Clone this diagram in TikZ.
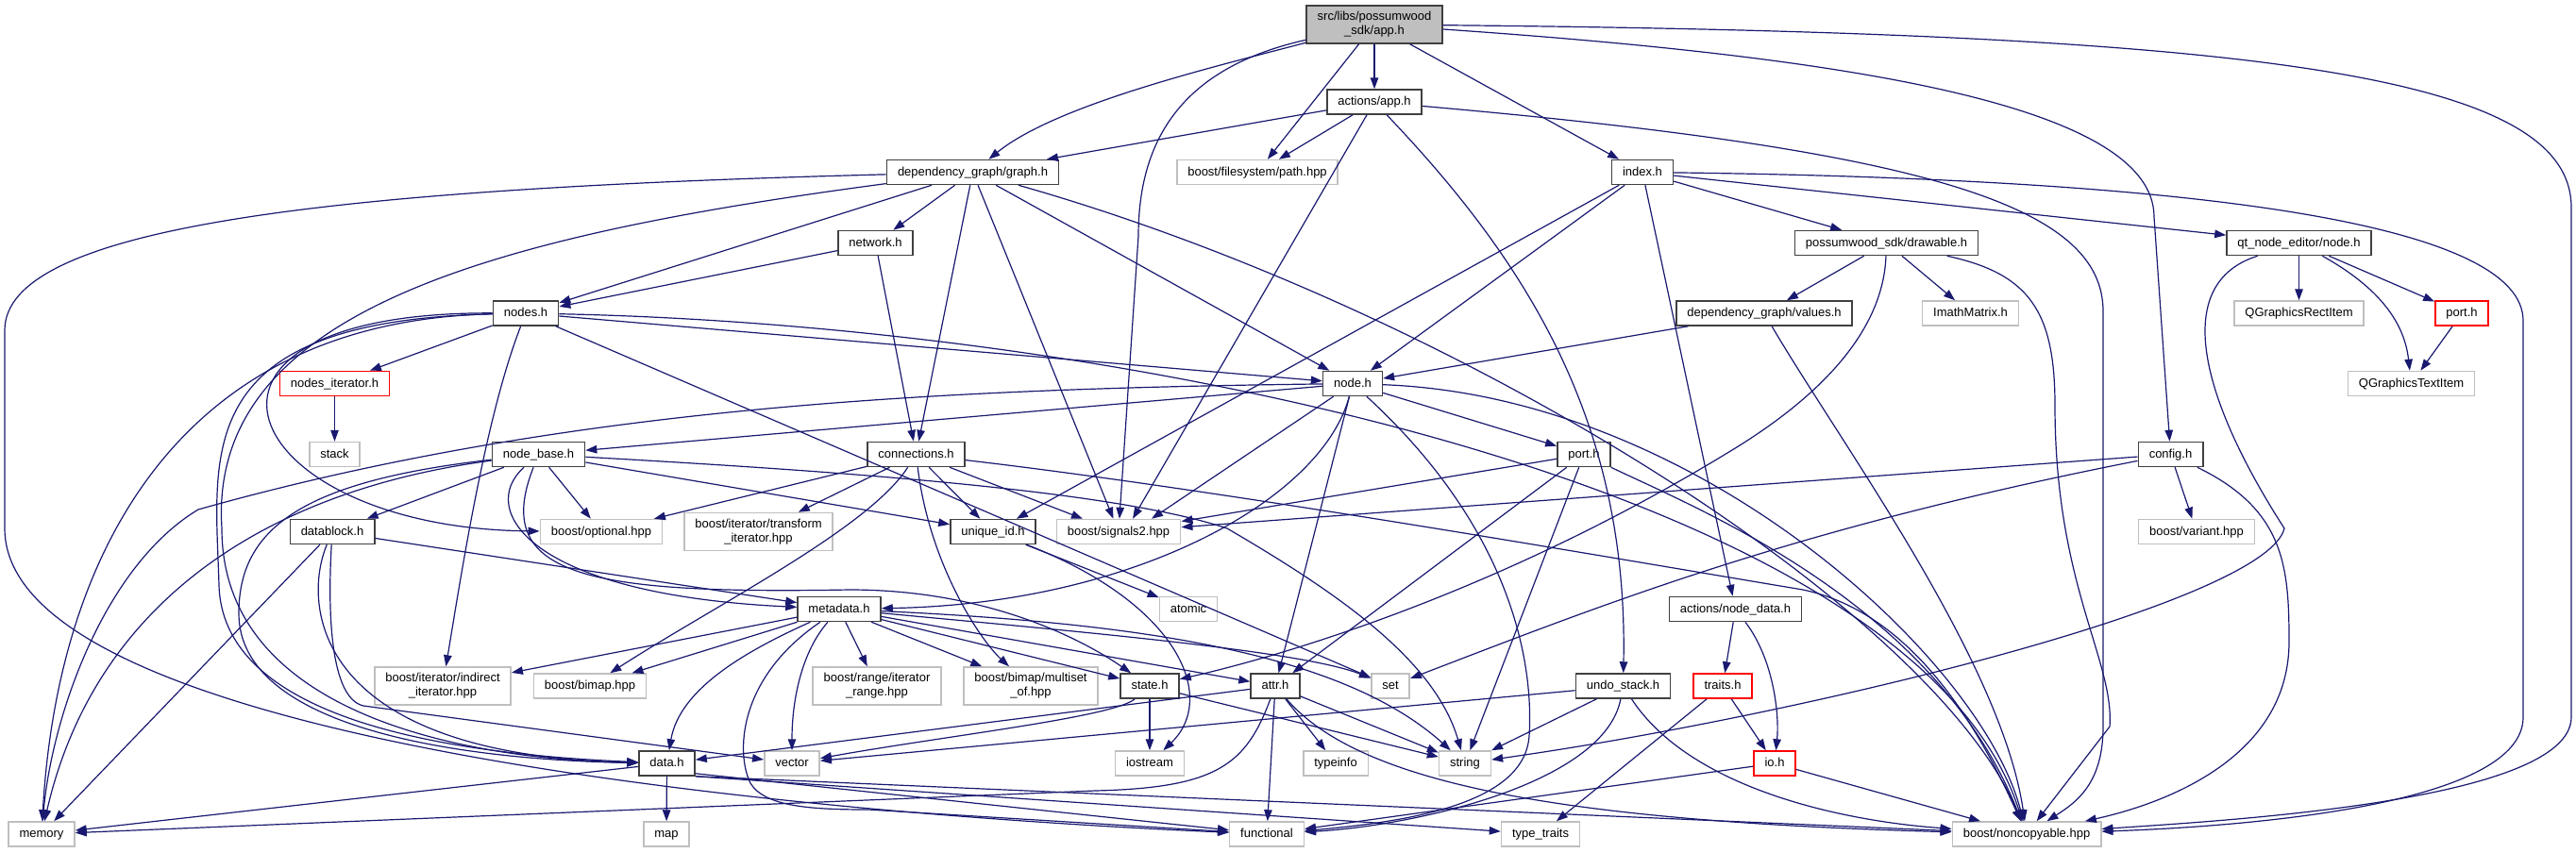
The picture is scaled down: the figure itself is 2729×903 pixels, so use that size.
\documentclass[tikz,border=0pt]{standalone}
\usepackage{fontspec}
\setmainfont{Liberation Sans}
\usetikzlibrary{arrows.meta}
\definecolor{Edge}{HTML}{191970}
\definecolor{Frame}{HTML}{404040}
\definecolor{Grey}{HTML}{BFBFBF}
\definecolor{Cut}{HTML}{FF0000}
\tikzset{
  hdrbox/.style={draw=Frame,fill=white,line width=1.5pt,minimum height=26pt,inner xsep=11.5pt,inner ysep=0pt,text height=10pt,text depth=3pt,font=\fontsize{13}{15}\selectfont,text=black},
  sysbox/.style={hdrbox,draw=Grey},
  cutbox/.style={hdrbox,draw=Cut},
  sysbox2/.style={draw=Grey,fill=white,line width=1.5pt,minimum height=40pt,inner xsep=11.5pt,inner ysep=0pt,align=center,font=\fontsize{13}{15}\selectfont,text=black},
  rootbox/.style={sysbox2,draw=Frame,fill=Grey},
  inc/.style={-{Triangle[length=12pt,width=8.5pt]},draw=Edge,line width=1.2pt}
}

\begin{document}
\begin{tikzpicture}[x=1pt,y=-1pt]
  \fill[white] (0,0) rectangle (2729,903);
  \useasboundingbox (0,0) rectangle (2729,903);
  \node[rootbox] (app) at (1456,26) {src/libs/possumwood\\\_sdk/app.h};
  \node[hdrbox] (actapp) at (1456,108) {actions/app.h};
  \node[hdrbox] (graph) at (1030.5,182.5) {dependency\_graph/graph.h};
  \node[sysbox] (path) at (1332,182.5) {boost/filesystem/path.hpp};
  \node[hdrbox] (index) at (1740,182.5) {index.h};
  \node[hdrbox] (network) at (927.5,257.5) {network.h};
  \node[hdrbox] (drawable) at (1998.5,257.5) {possumwood\_sdk/drawable.h};
  \node[hdrbox] (qtnode) at (2435.5,257.5) {qt\_node\_editor/node.h};
  \node[hdrbox] (nodes) at (557,332) {nodes.h};
  \node[hdrbox] (values) at (1869,332) {dependency\_graph/values.h};
  \node[sysbox] (imath) at (2087.5,332) {ImathMatrix.h};
  \node[sysbox] (qrect) at (2435.5,332) {QGraphicsRectItem};
  \node[cutbox] (qport) at (2608,332) {port.h};
  \node[cutbox] (nodesit) at (354.5,406.5) {nodes\_iterator.h};
  \node[hdrbox] (node) at (1433,406.5) {node.h};
  \node[sysbox] (qtext) at (2554.5,406.5) {QGraphicsTextItem};
  \node[sysbox] (stack) at (354.5,481.5) {stack};
  \node[hdrbox] (nodebase) at (570.5,481.5) {node\_base.h};
  \node[hdrbox] (connections) at (970.5,481.5) {connections.h};
  \node[hdrbox] (port) at (1678,481.5) {port.h};
  \node[hdrbox] (config) at (2299.5,481.5) {config.h};
  \node[hdrbox] (datablock) at (352,563.5) {datablock.h};
  \node[sysbox] (optional) at (637,563.5) {boost/optional.hpp};
  \node[sysbox2] (transform) at (803.5,563.5) {boost/iterator/transform\\\_iterator.hpp};
  \node[hdrbox] (uniqueid) at (1052,563.5) {unique\_id.h};
  \node[sysbox] (signals) at (1185,563.5) {boost/signals2.hpp};
  \node[sysbox] (variant) at (2327,563.5) {boost/variant.hpp};
  \node[hdrbox] (metadata) at (889,645.5) {metadata.h};
  \node[sysbox] (atomic) at (1259,645.5) {atomic};
  \node[hdrbox] (nodedata) at (1838.5,645.5) {actions/node\_data.h};
  \node[sysbox2] (indirect) at (469,727) {boost/iterator/indirect\\\_iterator.hpp};
  \node[sysbox] (bimap) at (625,727) {boost/bimap.hpp};
  \node[sysbox2] (range) at (929,727) {boost/range/iterator\\\_range.hpp};
  \node[sysbox2] (multiset) at (1092,727) {boost/bimap/multiset\\\_of.hpp};
  \node[hdrbox] (state) at (1218,727) {state.h};
  \node[hdrbox] (attr) at (1351,727) {attr.h};
  \node[sysbox] (set) at (1473,727) {set};
  \node[hdrbox] (undo) at (1719.5,727) {undo\_stack.h};
  \node[cutbox] (traits) at (1825,727) {traits.h};
  \node[hdrbox] (data) at (706.5,809) {data.h};
  \node[sysbox] (vector) at (839,809) {vector};
  \node[sysbox] (iostream) at (1218,809) {iostream};
  \node[sysbox] (typeinfo) at (1415,809) {typeinfo};
  \node[sysbox] (string) at (1552,809) {string};
  \node[cutbox] (io) at (1880,809) {io.h};
  \node[sysbox] (memory) at (44,884) {memory};
  \node[sysbox] (map) at (706,884) {map};
  \node[sysbox] (functional) at (1342,884) {functional};
  \node[sysbox] (typetraits) at (1632,884) {type\_traits};
  \node[sysbox] (noncopy) at (2147,884) {boost/noncopyable.hpp};

  \draw[inc] (app) .. controls (1290,70) and (1120,110) .. (graph);
  \draw[inc] (app) -- (path);
  \draw[inc] (app) -- (actapp);
  \draw[inc] (app) -- (index);
  \draw[inc] (app) .. controls (1260,70) and (1206,140) .. (1206,250) -- (signals);
  \draw[inc] (app) .. controls (1950,60) and (2282,110) .. (2282,230) -- (config);
  \draw[inc] (app) .. controls (2400,35) and (2724,80) .. (2724,220) -- (2724,760) .. controls (2724,850) and (2350,870) .. (noncopy);
  \draw[inc] (actapp) -- (graph);
  \draw[inc] (actapp) -- (path);
  \draw[inc] (actapp) -- ([xshift=15pt]signals.north);
  \draw[inc] (actapp) .. controls (1620,280) and (1725,450) .. (undo);
  \draw[inc] (actapp) .. controls (2050,160) and (2228,220) .. (2228,330) -- (2228,770) .. controls (2228,830) and (2200,850) .. (noncopy);
  \draw[inc] (graph) -- (network);
  \draw[inc] (graph) -- (nodes);
  \draw[inc] (graph) -- (connections);
  \draw[inc] (graph) -- (node);
  \draw[inc] (graph) -- (signals);
  \draw[inc] (graph) .. controls (1550,330) and (2050,650) .. (noncopy);
  \draw[inc] (graph) .. controls (350,200) and (5,240) .. (5,350) -- (5,560) .. controls (5,780) and (800,860) .. (functional);
  \draw[inc] (graph) .. controls (520,250) and (220,330) .. (235,560) .. controls (235,760) and (500,805) .. (data);
  \draw[inc] (index) -- (drawable);
  \draw[inc] (index) -- (qtnode);
  \draw[inc] (index) -- (node);
  \draw[inc] (index) -- (uniqueid);
  \draw[inc] (index) -- (nodedata);
  \draw[inc] (index) .. controls (2350,190) and (2673,240) .. (2673,340) -- (2673,760) .. controls (2673,850) and (2400,875) .. (noncopy);
  \draw[inc] (network) -- (nodes);
  \draw[inc] (network) -- (connections);
  \draw[inc] (drawable) -- (values);
  \draw[inc] (drawable) -- (imath);
  \draw[inc] (drawable) .. controls (1995,350) and (1930,420) .. (1830,480) .. controls (1600,620) and (1380,690) .. (state);
  \draw[inc] (drawable) .. controls (2150,290) and (2177,330) .. (2177,430) .. controls (2177,620) and (2240,700) .. (2235,770) -- (noncopy);
  \draw[inc] (qtnode) -- (qrect);
  \draw[inc] (qtnode) -- (qport);
  \draw[inc] (qtnode) .. controls (2530,310) and (2548,350) .. (qtext);
  \draw[inc] (qtnode) .. controls (2300,300) and (2330,420) .. (2420,560) .. controls (2400,640) and (1900,760) .. (string);
  \draw[inc] (qport) -- (qtext);
  \draw[inc] (nodes) -- (nodesit);
  \draw[inc] (nodes) -- (node);
  \draw[inc] (nodes) .. controls (150,330) and (250,560) .. (optional);
  \draw[inc] (nodes) .. controls (515,440) and (490,600) .. (indirect);
  \draw[inc] (nodes) .. controls (180,340) and (60,600) .. (memory);
  \draw[inc] (nodes) .. controls (200,340) and (228,480) .. (232,620) .. controls (236,770) and (500,800) .. (data);
  \draw[inc] (nodes) -- (set);
  \draw[inc] (nodes) .. controls (1200,345) and (2030,520) .. (noncopy);
  \draw[inc] (values) -- (node);
  \draw[inc] (values) .. controls (1950,470) and (2120,700) .. (noncopy);
  \draw[inc] (nodesit) -- (stack);
  \draw[inc] (node) -- (nodebase);
  \draw[inc] (node) -- (port);
  \draw[inc] (node) .. controls (1400,530) and (1200,640) .. (metadata);
  \draw[inc] (node) -- ([xshift=35pt]signals.north);
  \draw[inc] (node) -- (attr);
  \draw[inc] (node) .. controls (1600,560) and (1625,700) .. (1620,780) .. controls (1615,850) and (1500,870) .. (functional);
  \draw[inc] (node) .. controls (1000,412) and (600,430) .. (210,540) .. controls (110,600) and (55,760) .. (memory);
  \draw[inc] (node) .. controls (1800,420) and (2100,700) .. (noncopy);
  \draw[inc] (nodebase) -- (datablock);
  \draw[inc] (nodebase) -- (optional);
  \draw[inc] (nodebase) -- (uniqueid);
  \draw[inc] (nodebase) .. controls (505,540) and (560,630) .. (metadata);
  \draw[inc] (nodebase) .. controls (520,610) and (620,630) .. (900,625) .. controls (1050,625) and (1150,680) .. (state);
  \draw[inc] (nodebase) .. controls (280,520) and (100,640) .. (memory);
  \draw[inc] (nodebase) .. controls (320,510) and (253,560) .. (253,650) .. controls (253,770) and (480,805) .. (data);
  \draw[inc] (nodebase) .. controls (900,500) and (1180,520) .. (1300,560) .. controls (1420,630) and (1520,700) .. (string);
  \draw[inc] (connections) -- (optional);
  \draw[inc] (connections) -- (transform);
  \draw[inc] (connections) -- (uniqueid);
  \draw[inc] (connections) -- ([xshift=-38pt]signals.north);
  \draw[inc] (connections) .. controls (920,560) and (760,640) .. (bimap);
  \draw[inc] (connections) .. controls (985,600) and (1040,680) .. (multiset);
  \draw[inc] (connections) .. controls (1300,520) and (1700,590) .. (1910,625) .. controls (2030,650) and (2100,780) .. (noncopy);
  \draw[inc] (port) -- (signals);
  \draw[inc] (port) -- (attr);
  \draw[inc] (port) -- (string);
  \draw[inc] (port) .. controls (1800,540) and (2050,640) .. (noncopy);
  \draw[inc] (config) -- (variant);
  \draw[inc] (config) -- (signals);
  \draw[inc] (config) .. controls (1900,560) and (1700,640) .. (set);
  \draw[inc] (config) .. controls (2420,540) and (2425,600) .. (2425,680) .. controls (2425,800) and (2300,850) .. (noncopy);
  \draw[inc] (datablock) -- (metadata);
  \draw[inc] (datablock) -- (memory);
  \draw[inc] (datablock) .. controls (320,640) and (330,800) .. (data);
  \draw[inc] (datablock) .. controls (347,650) and (350,740) .. (385,748) -- (vector);
  \draw[inc] (uniqueid) -- (atomic);
  \draw[inc] (uniqueid) .. controls (1250,640) and (1290,740) .. (iostream);
  \draw[inc] (metadata) -- (indirect);
  \draw[inc] (metadata) -- (bimap);
  \draw[inc] (metadata) -- (range);
  \draw[inc] (metadata) -- (multiset);
  \draw[inc] (metadata) -- (state);
  \draw[inc] (metadata) -- (attr);
  \draw[inc] (metadata) .. controls (1150,670) and (1380,690) .. (set);
  \draw[inc] (metadata) .. controls (1200,660) and (1420,690) .. (string);
  \draw[inc] (metadata) .. controls (790,690) and (720,730) .. (data);
  \draw[inc] (metadata) .. controls (850,690) and (839,740) .. (vector);
  \draw[inc] (metadata) .. controls (780,720) and (780,800) .. (795,830) .. controls (810,855) and (860,858) .. (920,858) -- (functional);
  \draw[inc] (nodedata) -- (traits);
  \draw[inc] (nodedata) .. controls (1880,700) and (1885,760) .. (io);
  \draw[inc] (state) -- (iostream);
  \draw[inc] (state) -- (string);
  \draw[inc] (state) .. controls (1180,760) and (1000,780) .. (vector);
  \draw[inc] (attr) -- (typeinfo);
  \draw[inc] (attr) -- (string);
  \draw[inc] (attr) -- (functional);
  \draw[inc] (attr) .. controls (1320,810) and (1290,835) .. (1160,838) -- (memory);
  \draw[inc] (attr) -- (data);
  \draw[inc] (attr) .. controls (1440,830) and (1650,870) .. (noncopy);
  \draw[inc] (undo) -- (vector);
  \draw[inc] (undo) -- (string);
  \draw[inc] (undo) .. controls (1700,830) and (1500,875) .. (functional);
  \draw[inc] (undo) .. controls (1790,835) and (1950,870) .. (noncopy);
  \draw[inc] (traits) -- (io);
  \draw[inc] (traits) -- (typetraits);
  \draw[inc] (io) -- (functional);
  \draw[inc] (io) -- (noncopy);
  \draw[inc] (data) -- (memory);
  \draw[inc] (data) -- (map);
  \draw[inc] ([yshift=3pt]data.south east) -- (functional);
  \draw[inc] (data.south east) -- (typetraits);
  \draw[inc] (data.south east) -- (noncopy);
\end{tikzpicture}
\end{document}
